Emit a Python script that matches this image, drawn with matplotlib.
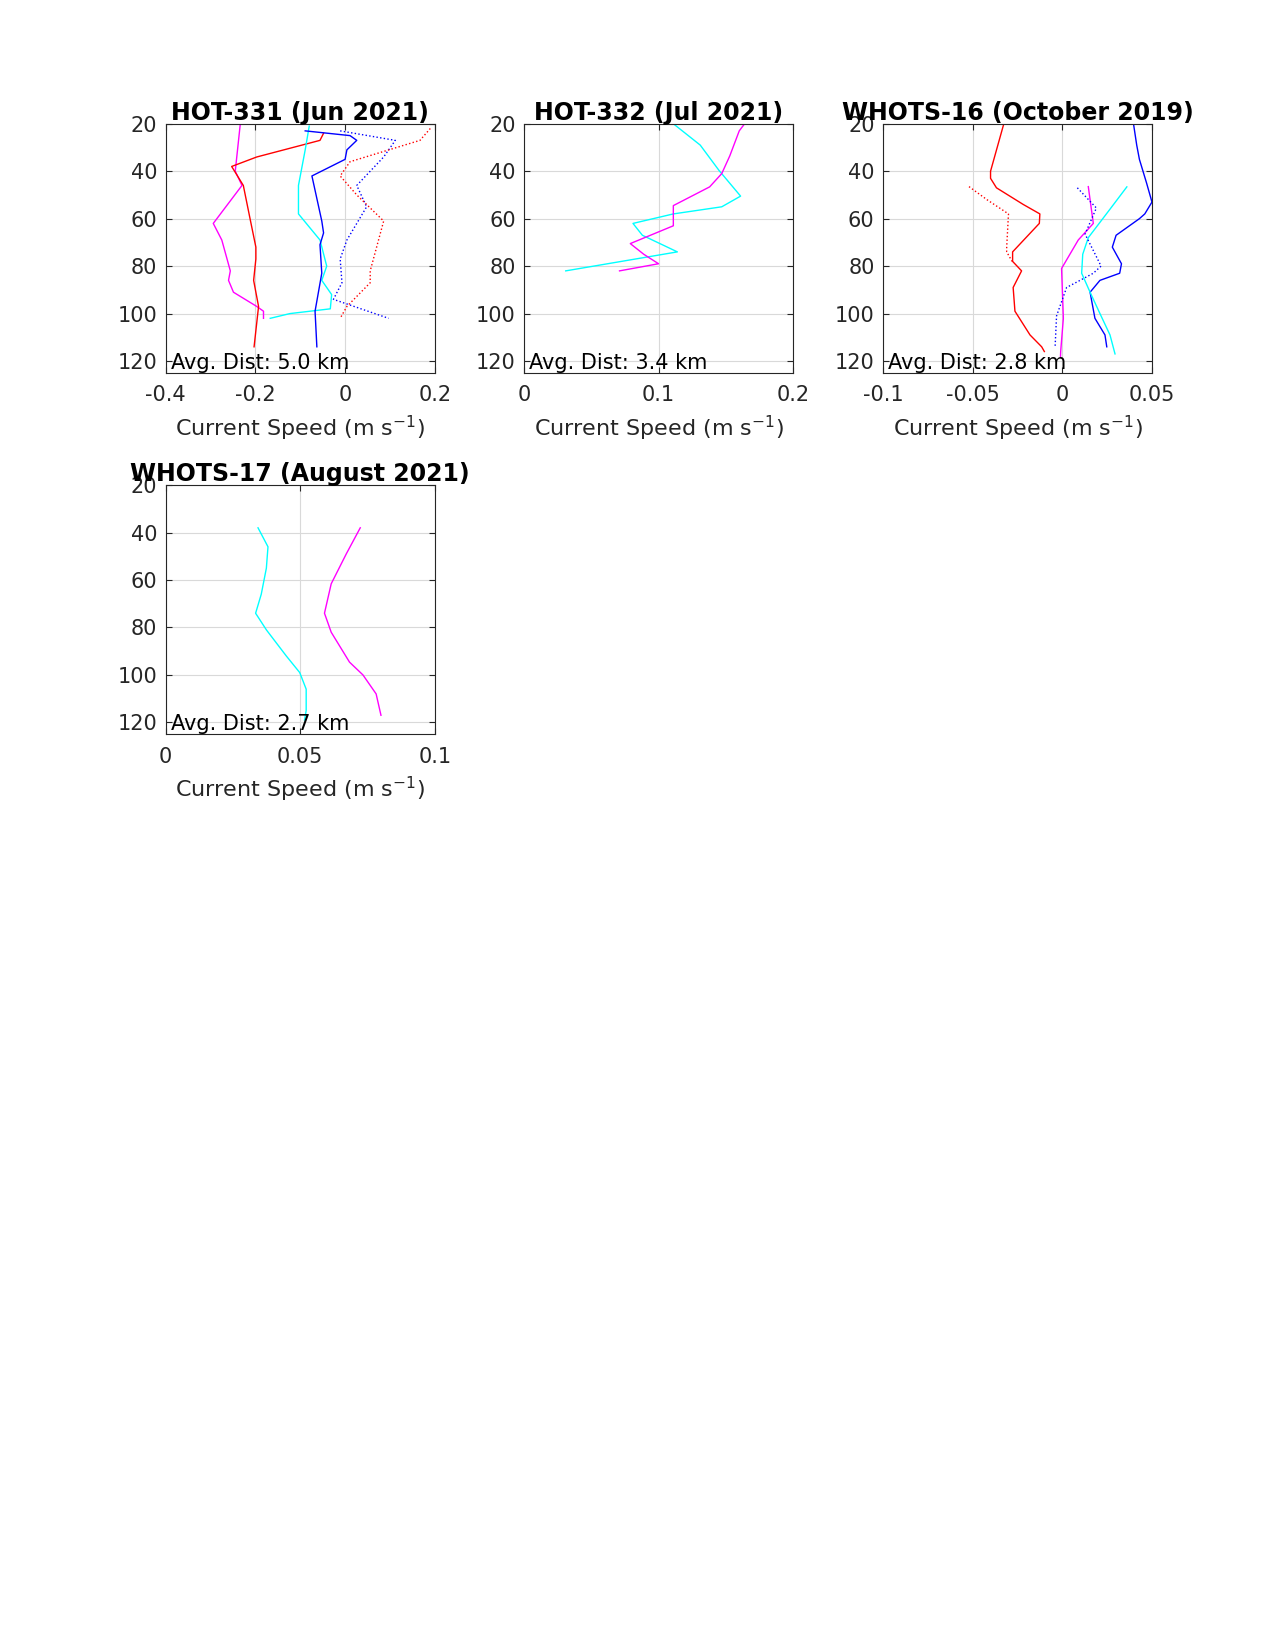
import matplotlib
matplotlib.use("Agg")
import matplotlib.pyplot as plt

# ---- HOT-331 ----
p1_mag_x = [-0.234, -0.245, -0.23, -0.294, -0.275, -0.256, -0.26, -0.249, -0.197, -0.182, -0.182]
p1_mag_d = [20.5, 40, 46, 62, 69, 82, 86, 91, 97, 99, 102]
p1_red_x = [-0.048, -0.056, -0.197, -0.253, -0.227, -0.212, -0.199, -0.199, -0.204, -0.193, -0.203]
p1_red_d = [24, 27, 34, 38, 46, 60, 72, 77, 86, 97, 114]
p1_cyan_x = [-0.08, -0.089, -0.104, -0.104, -0.056, -0.041, -0.052, -0.03, -0.033, -0.123, -0.167]
p1_cyan_d = [21, 31, 46, 58, 69, 80, 86, 92, 98, 100, 102]
p1_blue_x = [-0.089, 0.011, 0.026, 0.004, 0.0, -0.074, -0.052, -0.048, -0.056, -0.052, -0.067, -0.063]
p1_blue_d = [23, 25, 27, 31, 35, 42, 61, 66, 71, 83, 99, 114]
p1_bdot_x = [-0.011, 0.112, 0.086, 0.026, 0.048, 0.004, -0.011, -0.007, -0.026, 0.097]
p1_bdot_d = [23, 27, 34, 46, 55, 69, 77, 87, 94, 102]
p1_rdot_x = [0.19, 0.167, 0.011, -0.011, 0.026, 0.086, 0.056, 0.056, 0.004, -0.011]
p1_rdot_d = [22, 27, 36, 42, 50, 61, 82, 87, 97, 102]

# ---- HOT-332 ----
p2_cyan_x = [0.111, 0.131, 0.145, 0.161, 0.147, 0.111, 0.081, 0.088, 0.114, 0.031]
p2_cyan_d = [20, 29, 39.7, 50.5, 55, 58, 62, 67, 74, 82]
p2_mag_x = [0.164, 0.16, 0.153, 0.147, 0.138, 0.111, 0.111, 0.079, 0.089, 0.1, 0.071]
p2_mag_d = [20, 23, 33.5, 41, 46.6, 54.5, 63, 70.5, 75, 79, 82]

# ---- WHOTS-16 ----
p3_red_x = [-0.0326, -0.040, -0.040, -0.0367, -0.0218, -0.0125, -0.0128, -0.0277, -0.0277, -0.0227, -0.0274, -0.0264, -0.018, -0.0115, -0.010]
p3_red_d = [20, 40, 43, 47, 54, 58, 62, 74, 78, 82, 89, 99, 109, 114, 116]
p3_rdot_x = [-0.052, -0.042, -0.034, -0.030, -0.031, -0.031, -0.028]
p3_rdot_d = [46.5, 52, 56, 58, 72, 74, 78]
p3_mag_x = [0.0145, 0.0173, 0.0089, -0.0004, 0.0006, -0.0009, -0.001]
p3_mag_d = [46.5, 62, 69, 81, 102, 116, 118]
p3_blue_x = [0.0397, 0.0415, 0.043, 0.047, 0.050, 0.046, 0.043, 0.030, 0.0279, 0.033, 0.032, 0.021, 0.0155, 0.0182, 0.0238, 0.0248]
p3_blue_d = [20, 29, 35, 45, 53, 58, 60, 67, 72, 79, 83, 86, 91, 102, 109, 114]
p3_cyan_x = [0.036, 0.0266, 0.0145, 0.0114, 0.0108, 0.0155, 0.021, 0.0266, 0.0294]
p3_cyan_d = [46.6, 56, 68, 75, 83, 91, 100, 109, 117]
p3_bdot_x = [0.0084, 0.019, 0.0127, 0.019, 0.0216, 0.0173, 0.0099, 0.0024, -0.0032, -0.004]
p3_bdot_d = [47, 55.5, 66.5, 76, 80, 83, 86, 89, 101, 114]

# ---- WHOTS-17 ----
p4_cyan_x = [0.0343, 0.038, 0.0374, 0.0355, 0.0334, 0.0374, 0.0448, 0.0498, 0.0522, 0.0522, 0.0516]
p4_cyan_d = [38, 46, 55, 66, 74, 81, 92, 99, 106, 115, 119]
p4_mag_x = [0.0723, 0.0671, 0.0615, 0.059, 0.0615, 0.0683, 0.0733, 0.0782, 0.080]
p4_mag_d = [38, 49, 61.6, 74, 82, 94.6, 100, 108, 117]

titles = ["HOT-331 (Jun 2021)", "HOT-332 (Jul 2021)", "WHOTS-16 (October 2019)", "WHOTS-17 (August 2021)"]
dists = ["Avg. Dist: 5.0 km", "Avg. Dist: 3.4 km", "Avg. Dist: 2.8 km", "Avg. Dist: 2.7 km"]
xlims = [(-0.4, 0.2), (0, 0.2), (-0.1, 0.05), (0, 0.1)]
xticks = [[-0.4, -0.2, 0, 0.2], [0, 0.1, 0.2], [-0.1, -0.05, 0, 0.05], [0, 0.05, 0.1]]
xticklabels = [["-0.4", "-0.2", "0", "0.2"], ["0", "0.1", "0.2"], ["-0.1", "-0.05", "0", "0.05"], ["0", "0.05", "0.1"]]
yticks = [20, 40, 60, 80, 100, 120]

fig = plt.figure(figsize=(12.75, 16.5), dpi=100)
pos = [(0.130, 0.774), (0.411, 0.774), (0.6925, 0.774), (0.130, 0.555)]
w, h = 0.211, 0.151
axes = [fig.add_axes([x, y, w, h]) for x, y in pos]

series = [
    [(p1_mag_x, p1_mag_d, 'magenta', '-'), (p1_red_x, p1_red_d, 'red', '-'), (p1_cyan_x, p1_cyan_d, 'cyan', '-'),
     (p1_blue_x, p1_blue_d, 'blue', '-'), (p1_bdot_x, p1_bdot_d, 'blue', ':'), (p1_rdot_x, p1_rdot_d, 'red', ':')],
    [(p2_cyan_x, p2_cyan_d, 'cyan', '-'), (p2_mag_x, p2_mag_d, 'magenta', '-')],
    [(p3_red_x, p3_red_d, 'red', '-'), (p3_rdot_x, p3_rdot_d, 'red', ':'), (p3_mag_x, p3_mag_d, 'magenta', '-'),
     (p3_blue_x, p3_blue_d, 'blue', '-'), (p3_cyan_x, p3_cyan_d, 'cyan', '-'), (p3_bdot_x, p3_bdot_d, 'blue', ':')],
    [(p4_cyan_x, p4_cyan_d, 'cyan', '-'), (p4_mag_x, p4_mag_d, 'magenta', '-')],
]

for i, ax in enumerate(axes):
    for xs, ds, c, ls in series[i]:
        ax.plot(xs, ds, color=c, linestyle=ls, linewidth=1.0)
    ax.set_xlim(*xlims[i])
    ax.set_ylim(125, 20)
    ax.set_yticks(yticks)
    ax.set_xticks(xticks[i])
    ax.set_xticklabels(xticklabels[i])
    ax.grid(True, color='#d9d9d9', linewidth=0.8)
    ax.set_axisbelow(True)
    ax.tick_params(direction='in', top=True, right=True, labelsize=15, colors='#262626', length=4)
    ax.tick_params(axis='x', pad=9)
    ax.tick_params(axis='y', pad=6)
    for s in ax.spines.values():
        s.set_color('#262626')
        s.set_linewidth(0.8)
    ax.set_title(titles[i], fontsize=17, fontweight='bold', pad=3)
    ax.set_xlabel("Current Speed (m s$^{-1}$)", fontsize=16, color='#262626', labelpad=6)
    ax.text(0.02, 0.0, dists[i], transform=ax.transAxes, fontsize=15, va='bottom', ha='left')

fig.savefig("out.png", dpi=100, facecolor='white')
